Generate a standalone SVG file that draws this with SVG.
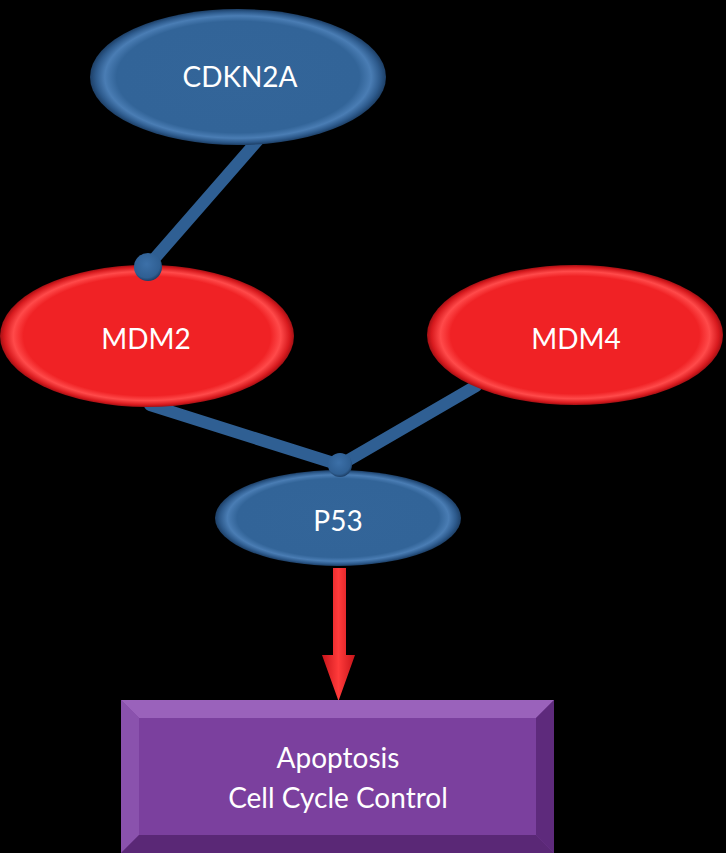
<svg xmlns="http://www.w3.org/2000/svg" width="726" height="853" viewBox="0 0 726 853">
<defs>
<radialGradient id="gBlue" cx="50%" cy="50%" r="50%">
<stop offset="0" stop-color="#336599"/>
<stop offset="0.82" stop-color="#326498"/>
<stop offset="0.9" stop-color="#4a7db4"/>
<stop offset="0.96" stop-color="#2d5a8c"/>
<stop offset="1" stop-color="#1d3f66"/>
</radialGradient>
<radialGradient id="gRed" cx="50%" cy="50%" r="50%">
<stop offset="0" stop-color="#f02225"/>
<stop offset="0.84" stop-color="#f02225"/>
<stop offset="0.91" stop-color="#ff4a4a"/>
<stop offset="0.97" stop-color="#d81a1e"/>
<stop offset="1" stop-color="#a31014"/>
</radialGradient>
<radialGradient id="gKnob" cx="45%" cy="40%" r="60%">
<stop offset="0" stop-color="#3c70a8"/>
<stop offset="0.8" stop-color="#2f5f93"/>
<stop offset="1" stop-color="#1d3f66"/>
</radialGradient>
<linearGradient id="gArrow" x1="0" y1="0" x2="1" y2="0">
<stop offset="0" stop-color="#c8141a"/>
<stop offset="0.5" stop-color="#ff3b3b"/>
<stop offset="1" stop-color="#c8141a"/>
</linearGradient>
<style>
.lbl{font-family:Lato,"Open Sans","Liberation Sans",sans-serif;fill:#ffffff;font-size:28px;text-anchor:middle;dominant-baseline:central}
.bar{stroke:#2f5f93;stroke-width:12;stroke-linecap:round}
</style>
</defs>
<rect width="726" height="853" fill="#000000"/>
<g id="connectors">
<line class="bar" x1="258" y1="140" x2="148" y2="266"/>
<line class="bar" x1="150" y1="405" x2="340" y2="465"/>
<line class="bar" x1="476" y1="386" x2="340" y2="465"/>
<path d="M333,568 L346,568 L346,655 L355,655 L338.5,701 L322,655 L333,655 Z" fill="url(#gArrow)"/>
</g>
<g id="cdkn2a">
<ellipse cx="238" cy="77" rx="148" ry="68" fill="url(#gBlue)"/>
<text class="lbl" x="240" y="76">CDKN2A</text>
</g>
<g id="mdm2">
<ellipse cx="147" cy="336" rx="147" ry="71" fill="url(#gRed)"/>
<text class="lbl" x="146" y="338">MDM2</text>
</g>
<g id="mdm4">
<ellipse cx="575" cy="335" rx="148" ry="70" fill="url(#gRed)"/>
<text class="lbl" x="576" y="338">MDM4</text>
</g>
<g id="p53">
<ellipse cx="338" cy="518" rx="123" ry="48" fill="url(#gBlue)"/>
<text class="lbl" x="338" y="520">P53</text>
</g>
<g id="knobs">
<circle cx="148" cy="267" r="14" fill="url(#gKnob)"/>
<circle cx="340" cy="465" r="12" fill="url(#gKnob)"/>
</g>
<g id="outcome">
<rect x="121" y="700" width="433" height="153" fill="#7a3e9c"/>
<polygon points="121,700 554,700 536,718 139,718" fill="#9a62bb"/>
<polygon points="121,700 139,718 139,835 121,853" fill="#8a52ad"/>
<polygon points="554,700 554,853 536,835 536,718" fill="#5e2a7c"/>
<polygon points="121,853 139,835 536,835 554,853" fill="#5a2876"/>
<rect x="139" y="718" width="397" height="117" fill="#7b409e"/>
<text class="lbl" x="338" y="757">Apoptosis</text>
<text class="lbl" x="338" y="797">Cell Cycle Control</text>
</g>
</svg>
